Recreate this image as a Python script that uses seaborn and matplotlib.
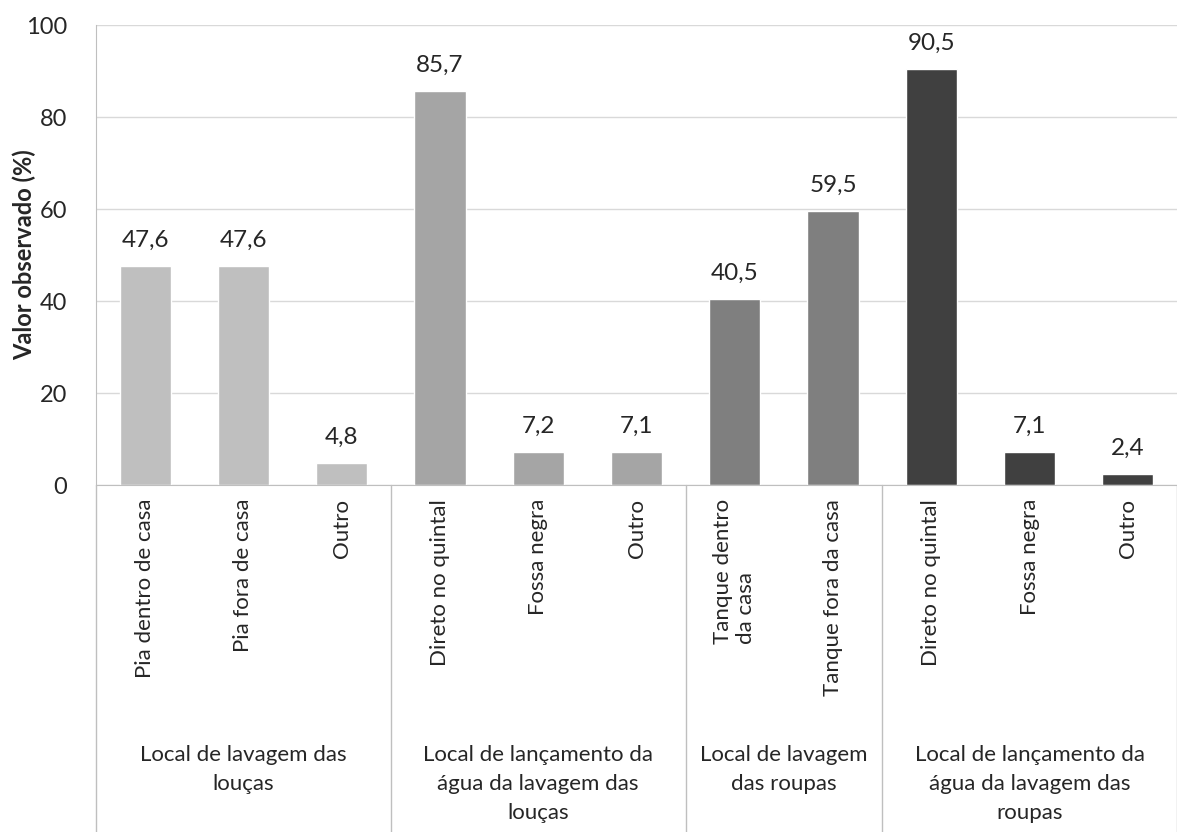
import pandas as pd
import seaborn as sns
import matplotlib.pyplot as plt
import matplotlib.transforms as mtransforms

# data
categorias = ['Pia dentro de casa', 'Pia fora de casa', 'Outro',
              'Direto no quintal', 'Fossa negra', 'Outro',
              'Tanque dentro\nda casa', 'Tanque fora da casa',
              'Direto no quintal', 'Fossa negra', 'Outro']
valores = [47.6, 47.6, 4.8, 85.7, 7.2, 7.1, 40.5, 59.5, 90.5, 7.1, 2.4]
grupos = ['Local de lavagem das\nlouças',
          'Local de lançamento da\nágua da lavagem das\nlouças',
          'Local de lavagem\ndas roupas',
          'Local de lançamento da\nágua da lavagem das\nroupas']
tamanho_grupo = [3, 3, 2, 3]
cores = ['#BFBFBF', '#A5A5A5', '#7F7F7F', '#404040']

grupo_col = []
for g, n in zip(grupos, tamanho_grupo):
    grupo_col += [g] * n

df = pd.DataFrame({'pos': [str(i) for i in range(len(valores))],
                   'valor': valores,
                   'grupo': grupo_col})

sns.set_style('white')
plt.rcParams['font.family'] = ['Lato', 'DejaVu Sans']

fig = plt.figure(figsize=(11.77, 8.32), dpi=100)
ax = fig.add_axes([96 / 1177, (832 - 485) / 832, (1177 - 96) / 1177, 460 / 832])

sns.barplot(data=df, x='pos', y='valor', hue='grupo', palette=cores,
            dodge=False, width=0.52, legend=False, ax=ax)

ax.set_ylim(0, 100)
ax.set_xlim(-0.5, len(valores) - 0.5)
ax.set_yticks([0, 20, 40, 60, 80, 100])
ax.tick_params(axis='y', labelsize=17, length=5, color='#BFBFBF', pad=16)
ax.set_xticks([])
ax.set_xlabel('')
ax.set_ylabel('Valor observado (%)', fontsize=17, fontweight='bold')
ax.yaxis.set_label_coords(-60 / 1081, 0.5)
ax.yaxis.grid(True, color='#D9D9D9', linewidth=1)
ax.set_axisbelow(True)
for s in ['top', 'right']:
    ax.spines[s].set_visible(False)
for s in ['left', 'bottom']:
    ax.spines[s].set_color('#BFBFBF')

# value labels
for cont in ax.containers:
    labs = [('%.1f' % b.get_height()).replace('.', ',') if b.get_height() > 0 else ''
            for b in cont]
    ax.bar_label(cont, labels=labs, padding=11, fontsize=17.5)

# category labels, rotated
trans = mtransforms.blended_transform_factory(ax.transData, ax.transAxes)
y_px = 1 / 460
for i, c in enumerate(categorias):
    ax.text(i, -14 * y_px, c, rotation=90, ha='center', va='top',
            fontsize=16, transform=trans, linespacing=1.2, multialignment='left')

# group separators and group labels
inicio = -0.5
fundo = -347 * y_px
ax.plot([inicio, inicio], [0, fundo], color='#BFBFBF', lw=1,
        transform=trans, clip_on=False)
for g, n in zip(grupos, tamanho_grupo):
    fim = inicio + n
    ax.plot([fim, fim], [0, fundo], color='#BFBFBF', lw=1,
            transform=trans, clip_on=False)
    ax.text((inicio + fim) / 2, -260 * y_px, g, ha='center', va='top',
            fontsize=16, transform=trans, linespacing=1.55)
    inicio = fim

fig.savefig('out.png', dpi=100)
